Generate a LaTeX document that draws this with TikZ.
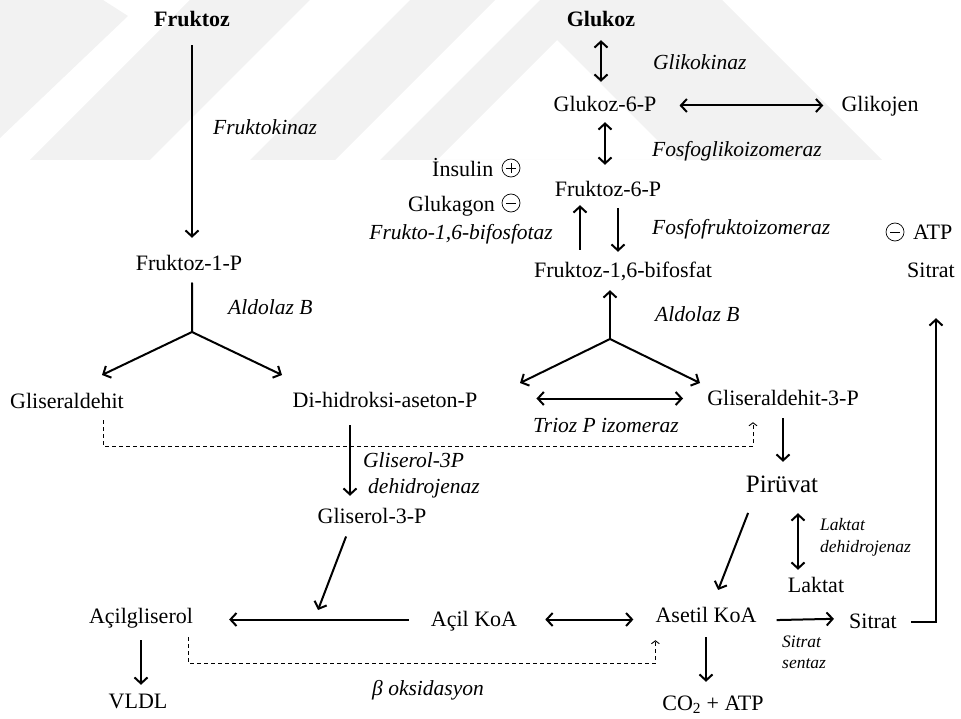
\documentclass[tikz,border=0pt]{standalone}
\usepackage{fontspec}
\setmainfont{Liberation Serif}
\usetikzlibrary{arrows.meta}

\begin{document}
\begin{tikzpicture}[x=1pt,y=-1pt]
%define
\tikzstyle{metab} = [inner sep=0pt, text height=16pt, text depth=3pt, font=\fontsize{22}{26}\selectfont]
\tikzstyle{metabb} = [metab, font=\fontsize{22}{26}\selectfont\bfseries]
\tikzstyle{enzim} = [inner sep=0pt, font=\fontsize{21.5}{26}\selectfont\itshape]
\tikzstyle{enzimk} = [inner sep=0pt, font=\fontsize{17.5}{21}\selectfont\itshape]
\tikzstyle{sign} = [circle, draw, line width=0.7pt, minimum size=18pt, inner sep=0pt]
\tikzstyle{signbar} = [line width=0.9pt]
\tikzstyle{arrow} = [line width=2pt, -{Straight Barb[length=6pt,width=13pt]}]
\tikzstyle{arrowd} = [line width=2pt, {Straight Barb[length=6pt,width=13pt]}-{Straight Barb[length=6pt,width=13pt]}]
\tikzstyle{arrowx} = [line width=0.9pt, dash pattern=on 4pt off 3pt, -{Straight Barb[length=3pt,width=8pt]}]
\tikzstyle{wmark} = [fill=black!5, draw=none]

\useasboundingbox (0,0) rectangle (961,719);

%watermark
\fill[wmark] (0,0) -- (103,0) -- (128,16) -- (0,138) -- cycle;
\fill[wmark] (30,160) -- (150,160) -- (310,0) -- (190,0) -- cycle;
\fill[wmark] (250,160) -- (335,160) -- (495,0) -- (410,0) -- cycle;
\fill[wmark, even odd rule] (380,160) -- (540,0) -- (722,0) -- (882,160) -- cycle
  (437,160) -- (557,40) -- (677,160) -- cycle;

%metabolites
\node[metabb, anchor=base] (fr) at (192,27) {Fruktoz};
\node[metabb, anchor=base] (glk) at (601,27) {Glukoz};
\node[metab, anchor=base] (glk6) at (605,112) {Glukoz-6-P};
\node[metab, anchor=base] (glj) at (880,112) {Glikojen};
\node[metab, anchor=base] (fr6) at (608,197) {Fruktoz-6-P};
\node[metab, anchor=base] (fr16) at (623,278) {Fruktoz-1,6-bifosfat};
\node[metab, anchor=base] (st1) at (931,278) {Sitrat};
\node[metab, anchor=base west] (atp) at (913,240) {ATP};
\node[metab, anchor=base west] (ins) at (432,177) {İnsulin};
\node[metab, anchor=base west] (glg) at (408,212) {Glukagon};
\node[metab, anchor=base] (fr1) at (189,271) {Fruktoz-1-P};
\node[metab, anchor=base] (gl) at (67,408) {Gliseraldehit};
\node[metab, anchor=base] (di) at (385,407) {Di-hidroksi-aseton-P};
\node[metab, anchor=base] (gl3p) at (783,405) {Gliseraldehit-3-P};
\node[metab, anchor=base] (gs3p) at (372,523) {Gliserol-3-P};
\node[metab, anchor=base, text height=18pt, font=\fontsize{25}{30}\selectfont] (pir) at (782,492) {Pirüvat};
\node[metab, anchor=base] (lak) at (816,592) {Laktat};
\node[metab, anchor=base] (aset) at (706,622) {Asetil KoA};
\node[metab, anchor=base] (acil) at (474,626) {Açil KoA};
\node[metab, anchor=base] (acg) at (141,623) {Açilgliserol};
\node[metab, anchor=base] (st2) at (873,628) {Sitrat};
\node[metab, anchor=base] (vldl) at (138,708) {VLDL};
\node[metab, anchor=base] (co2) at (713,710) {CO\textsubscript{2} + ATP};

%signs
\node[sign] (plus) at (511,168) {};
\node[sign] (minus1) at (511,203) {};
\node[sign] (minus2) at (895,232) {};
\draw[signbar] ([xshift=4.5pt]plus.west) -- ([xshift=-4.5pt]plus.east);
\draw[signbar] ([yshift=-4.5pt]plus.north) -- ([yshift=4.5pt]plus.south);
\draw[signbar] ([xshift=4.5pt]minus1.west) -- ([xshift=-4.5pt]minus1.east);
\draw[signbar] ([xshift=4.5pt]minus2.west) -- ([xshift=-4.5pt]minus2.east);

%enzymes
\node[enzim, anchor=base west] (fk) at (213,135) {Fruktokinaz};
\node[enzim, anchor=base west] (gk) at (653,70) {Glikokinaz};
\node[enzim, anchor=base west] (fgi) at (652,157) {Fosfoglikoizomeraz};
\node[enzim, anchor=base east] (fbf) at (553,240) {Frukto-1,6-bifosfotaz};
\node[enzim, anchor=base west] (ffi) at (652,235) {Fosfofruktoizomeraz};
\node[enzim, anchor=base west] (ald1) at (228,315) {Aldolaz B};
\node[enzim, anchor=base west] (ald2) at (655,322) {Aldolaz B};
\node[enzim, anchor=base] (tpi) at (606,432) {Trioz P izomeraz};
\node[enzim, anchor=base west] (g3d1) at (363,467) {Gliserol-3P};
\node[enzim, anchor=base west] (g3d2) at (368,493) {dehidrojenaz};
\node[enzim, anchor=base west] (box) at (372,695) {β oksidasyon};
\node[enzimk, anchor=base west] (ldh1) at (820,530) {Laktat};
\node[enzimk, anchor=base west] (ldh2) at (820,552) {dehidrojenaz};
\node[enzimk, anchor=base west] (ss1) at (782,647) {Sitrat};
\node[enzimk, anchor=base west] (ss2) at (782,668) {sentaz};

%branch points
\coordinate (b1) at (192,332);
\coordinate (b1l) at (102,375);
\coordinate (b1r) at (282,375);
\coordinate (b2) at (610,339);
\coordinate (b2l) at (520,383);
\coordinate (b2r) at (700,383);
\coordinate (jn) at (318,610);

%line
\draw[arrow, shorten <=15pt, shorten >=17pt] (fr.south) -- (fr.south |- fr1.north);
\draw[arrow, line cap=round, shorten <=9pt] (b1 |- fr1.south) -- (b1) -- (b1l);
\draw[arrow, line cap=round] (b1) -- (b1r);
\draw[arrowd, shorten <=10pt, shorten >=14pt] (glk.south) -- (glk.south |- glk6.north);
\draw[arrowd, shorten <=23pt, shorten >=18pt] (glk6.east) -- (glj.west);
\draw[arrowd, shorten <=7pt, shorten >=16pt] (glk6.south) -- (glk6.south |- fr6.north);
\draw[arrow, shorten <=12pt, shorten >=5pt] ([xshift=-43pt]fr16.north) -- ([xshift=-43pt]fr16.north |- fr6.south);
\draw[arrow, shorten <=8pt, shorten >=10pt] ([xshift=10pt]fr6.south) -- ([xshift=10pt]fr6.south |- fr16.north);
\draw[arrow, line cap=round, shorten >=9pt] (b2) -- (b2 |- fr16.south);
\draw[arrow, line cap=round] (b2) -- (b2l);
\draw[arrow, line cap=round] (b2) -- (b2r);
\draw[arrowd, shorten <=59pt, shorten >=24pt] (gl3p.west -| di.east) -- (gl3p.west);
\draw[arrowx, shorten <=9pt, shorten >=14pt] ([xshift=36pt]gl.south) -- ++(0,35) -| ([xshift=-30pt]gl3p.south);
\draw[arrow, shorten <=15pt, shorten >=11pt] ([xshift=-35pt]di.south) -- ([xshift=-35pt]di.south |- gs3p.north);
\draw[arrow, shorten <=11pt] ([xshift=-22pt]gs3p.south) -- (jn);
\draw[arrow, shorten <=22pt, shorten >=36pt] (acil.west) -- (acil.west -| acg.east);
\draw[arrowd, shorten <=28pt, shorten >=22pt] (acil.east) -- (acil.east -| aset.west);
\draw[arrowx, shorten <=11pt, shorten >=15pt] ([xshift=47pt]acg.south) -- ++(0,37) -| (aset.south west);
\draw[arrow, shorten <=14pt, shorten >=7pt] (acg.south) -- (acg.south |- vldl.north);
\draw[arrow, shorten <=12pt, shorten >=12pt] (aset.south) -- (aset.south |- co2.north);
\draw[arrow, shorten <=20pt, shorten >=15pt] ([yshift=-5pt]aset.east) -- ([yshift=3pt]st2.west);
\draw[arrow, shorten <=14pt, shorten >=37pt] (st2.east) -| ([xshift=5pt]st1.south);
\draw[arrow, shorten <=10pt, shorten >=12pt] (gl3p.south) -- (gl3p.south |- pir.north);
\draw[arrow, shorten <=19pt, shorten >=17pt] ([xshift=-27pt]pir.south) -- ([xshift=6pt]aset.north);
\draw[arrowd, shorten <=18pt, shorten >=6pt] ([xshift=16pt]pir.south) -- ([xshift=16pt]pir.south |- lak.north);

\end{tikzpicture}
\end{document}
